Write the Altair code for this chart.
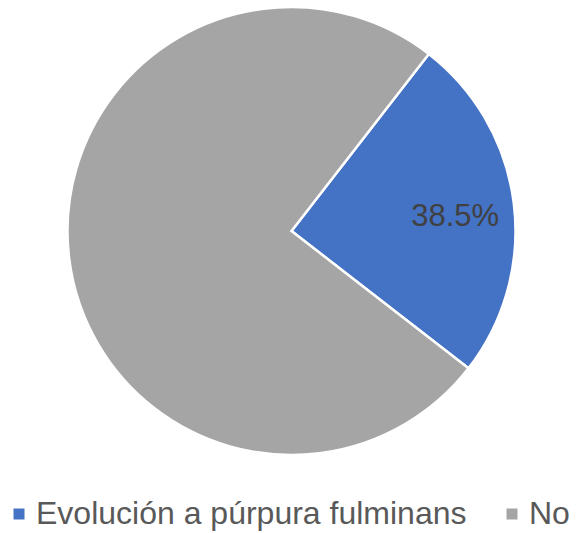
import math
import altair as alt
import pandas as pd

categories = ["Evolución a púrpura fulminans", "No"]
values = [25, 75]
labels = ["38.5%", ""]
colors = ["#4472C4", "#A5A5A5"]

df = pd.DataFrame({"cat": categories, "val": values, "label": labels, "ord": [0, 1]})

start = math.radians(37.8)
theta_scale = alt.Scale(range=[start, start + 2 * math.pi])
cx, cy, R = 291.5, 231, 224

base = alt.Chart(df).encode(
    theta=alt.Theta("val:Q", stack=True, scale=theta_scale),
    order=alt.Order("ord:Q"),
)

pie = base.mark_arc(stroke="white", strokeWidth=2.5, x=cx, y=cy, radius=R).encode(
    color=alt.Color(
        "cat:N",
        scale=alt.Scale(domain=categories, range=colors),
        sort=categories,
        legend=alt.Legend(
            title=None,
            orient="none",
            legendX=3,
            legendY=498,
            direction="horizontal",
            symbolType="square",
            symbolSize=121,
            symbolStrokeWidth=0,
            labelFontSize=32,
            labelFont="Liberation Sans",
            labelColor="#595959",
            labelLimit=0,
            labelOffset=1,
            columnPadding=29,
        ),
    )
)

text = base.mark_text(
    x=cx, y=cy, radius=165, font="Liberation Sans", fontSize=31, color="#404040",
    align="center", baseline="middle", dy=7,
).encode(text="label:N")

chart = (pie + text).properties(
    width=577, height=533, autosize=alt.AutoSizeParams(type="none"), padding=0
).configure_view(stroke=None)

chart.save("out.html", embed_options={"renderer": "svg", "actions": False})
